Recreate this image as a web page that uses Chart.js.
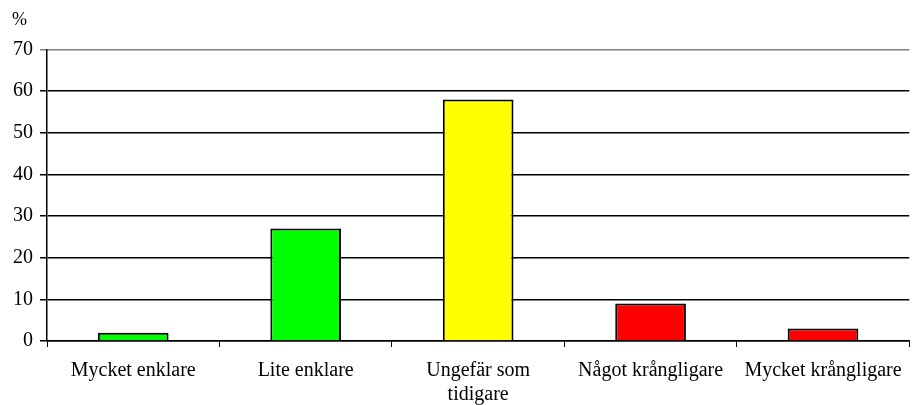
<!DOCTYPE html>
<html>
<head>
<meta charset="utf-8">
<script src="https://cdn.jsdelivr.net/npm/chart.js@4/dist/chart.umd.min.js"></script>
<style>
  html, body { margin: 0; padding: 0; background: white; }
  #wrap { width: 914px; height: 405px; position: relative; }
</style>
</head>
<body>
<div id="wrap"><canvas id="grafica"></canvas></div>
<script>
const categorias = ["Mycket enklare", "Lite enklare", ["Ungefär som", "tidigare"], "Något krångligare", "Mycket krångligare"]
const valores = [2, 27, 58, 9, 3]
const colores = ["#00ff00", "#00ff00", "#ffff00", "#ff0000", "#ff0000"]
const ticks_y = [0, 10, 20, 30, 40, 50, 60, 70]

const fuente = "'Liberation Serif', 'Times New Roman', serif"

const config = {
    type: "bar",
    data: {
        labels: categorias,
        datasets: [{
            data: valores,
            backgroundColor: colores,
            borderColor: "#000",
            borderWidth: 2,
            barPercentage: 0.41,
            categoryPercentage: 1
        }]
    },
    options: {
        responsive: true,
        maintainAspectRatio: false,
        animation: false,
        layout: { padding: { left: 12, right: 4, top: 0, bottom: 0 } },
        plugins: {
            legend: { display: false },
            tooltip: { enabled: false },
            title: {
                display: true,
                text: "%",
                align: "start",
                color: "#000",
                font: { family: fuente, size: 18, weight: "normal" },
                padding: { top: 9, bottom: 19 }
            }
        },
        scales: {
            x: {
                grid: {
                    offset: true,
                    drawOnChartArea: false,
                    drawTicks: true,
                    tickLength: 6,
                    color: "#000",
                    lineWidth: 1
                },
                border: { color: "#000", width: 1.5 },
                ticks: {
                    color: "#000",
                    font: { family: fuente, size: 20, lineHeight: 1.2 },
                    maxRotation: 0,
                    autoSkip: false,
                    padding: 12
                },
                afterFit: (s) => { s.height = 64 }
            },
            y: {
                min: 0,
                max: 70,
                afterBuildTicks: (s) => { s.ticks = ticks_y.map(v => ({ value: v })) },
                grid: {
                    color: (ctx) => ctx.tick && ctx.tick.value === 70 ? "#808080" : "#000",
                    lineWidth: 1.5,
                    tickLength: 7,
                    drawTicks: true
                },
                border: { color: "#000", width: 1.5 },
                ticks: {
                    color: "#000",
                    font: { family: fuente, size: 20 },
                    padding: 7
                },
                afterFit: (s) => { s.width = 35 }
            }
        }
    }
}

const chart = new Chart(document.getElementById("grafica"), config)
</script>
</body>
</html>
